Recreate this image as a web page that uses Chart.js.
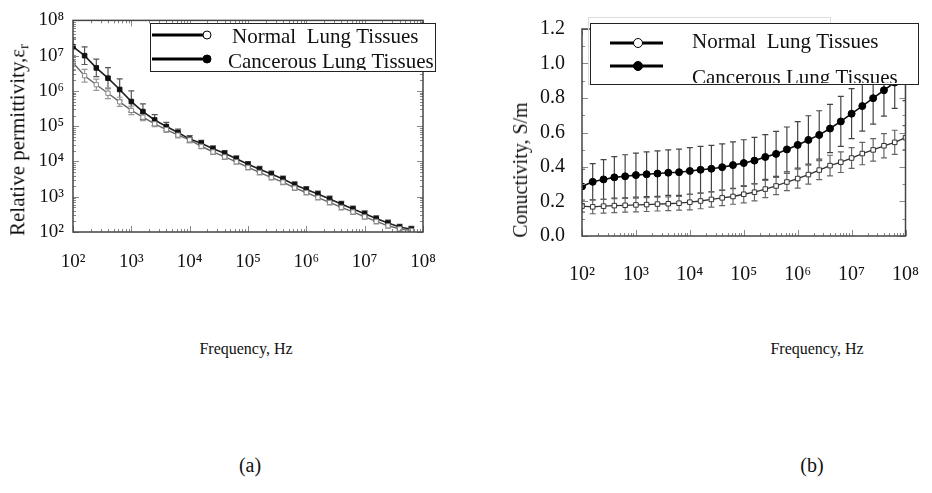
<!DOCTYPE html>
<html>
<head>
<meta charset="utf-8">
<script src="https://cdn.jsdelivr.net/npm/chart.js@4.4.0/dist/chart.umd.min.js"></script>
<style>
html, body { margin: 0; padding: 0; background: #fff; overflow: hidden; }
#wrap { position: relative; width: 932px; height: 493px; overflow: hidden; }
canvas { position: absolute; top: 0; }
.lbl { position: absolute; font-family: 'Liberation Serif', 'Times New Roman', serif; color: #111;
       white-space: nowrap; transform: translate(-50%, -50%); line-height: 1; }
.rot { transform: translate(-50%, -50%) rotate(-90deg); }
.lbl sub { font-size: 70%; vertical-align: -0.25em; }
</style>
</head>
<body>
<div id="wrap">
  <canvas id="chartA" width="466" height="300" style="left:0"></canvas>
  <canvas id="chartB" width="480" height="300" style="left:466px"></canvas>
  <div class="lbl rot" style="left:19px;top:140px;font-size:21px">Relative permittivity,ε<sub>r</sub></div>
  <div class="lbl rot" style="left:520px;top:170px;font-size:20px">Conuctivity, S/m</div>
  <div class="lbl" style="left:246px;top:349px;font-size:16px">Frequency, Hz</div>
  <div class="lbl" style="left:817px;top:349px;font-size:16px">Frequency, Hz</div>
  <div class="lbl" style="left:250px;top:465px;font-size:20px">(a)</div>
  <div class="lbl" style="left:812px;top:465px;font-size:20px">(b)</div>
</div>
<script>
// frequencies (Hz), 5 points per decade
var freqs = [1.00e2, 1.58e2, 2.51e2, 3.98e2, 6.31e2, 1.00e3, 1.58e3, 2.51e3, 3.98e3, 6.31e3,
             1.00e4, 1.58e4, 2.51e4, 3.98e4, 6.31e4, 1.00e5, 1.58e5, 2.51e5, 3.98e5, 6.31e5,
             1.00e6, 1.58e6, 2.51e6, 3.98e6, 6.31e6, 1.00e7, 1.58e7, 2.51e7, 3.98e7, 6.31e7, 1.00e8];

var seriesNames = ['Normal  Lung Tissues', 'Cancerous Lung Tissues'];

// (a) relative permittivity
var permNormal = [6.3e6, 2.7e6, 1.5e6, 8.6e5, 4.9e5, 2.8e5, 1.8e5, 1.17e5, 8.0e4, 5.6e4,
                  4.1e4, 2.7e4, 1.86e4, 1.35e4, 9.8e3, 6.8e3, 4.9e3, 3.5e3, 2.6e3, 1.78e3,
                  1.32e3, 950, 690, 500, 370, 270, 200, 150, 123, 110];
var permCancer = [1.8e7, 1.0e7, 4.5e6, 2.3e6, 1.1e6, 5.0e5, 2.6e5, 1.5e5, 9.8e4, 6.6e4,
                  4.3e4, 3.3e4, 2.3e4, 1.7e4, 1.2e4, 8.3e3, 6.0e3, 4.4e3, 3.2e3, 2.2e3,
                  1.6e3, 1.2e3, 860, 620, 450, 330, 240, 180, 138, 120];
// error bars, in decades
var permNormalErr = [0.2, 0.18, 0.16, 0.15, 0.13, 0.12, 0.1, 0.08, 0.08, 0.08,
                     0.07, 0.07, 0.07, 0.07, 0.07, 0.07, 0.07, 0.07, 0.07, 0.07,
                     0.07, 0.07, 0.07, 0.07, 0.07, 0.07, 0.07, 0.07, 0.07, 0.07];
var permCancerErr = [0.25, 0.25, 0.25, 0.3, 0.3, 0.3, 0.22, 0.15, 0.12, 0.1,
                     0.1, 0.08, 0.08, 0.08, 0.08, 0.08, 0.08, 0.08, 0.08, 0.08,
                     0.08, 0.08, 0.08, 0.08, 0.08, 0.08, 0.08, 0.08, 0.08, 0.08];

// (b) conductivity, S/m
var condNormal = [0.173, 0.169, 0.173, 0.176, 0.178, 0.180, 0.182, 0.185, 0.187, 0.190,
                  0.196, 0.203, 0.212, 0.221, 0.229, 0.242, 0.254, 0.272, 0.290, 0.313,
                  0.333, 0.356, 0.382, 0.408, 0.428, 0.452, 0.478, 0.499, 0.523, 0.543, 0.570];
var condCancer = [0.287, 0.314, 0.328, 0.340, 0.346, 0.353, 0.358, 0.362, 0.367, 0.370,
                  0.377, 0.384, 0.390, 0.399, 0.411, 0.423, 0.437, 0.458, 0.476, 0.502,
                  0.528, 0.557, 0.586, 0.623, 0.664, 0.709, 0.753, 0.799, 0.845, 0.890, 0.935];
var condNormalErr = [0.035, 0.04, 0.04, 0.04, 0.04, 0.04, 0.04, 0.04, 0.04, 0.04,
                     0.045, 0.045, 0.045, 0.045, 0.045, 0.05, 0.05, 0.05, 0.05, 0.05,
                     0.055, 0.055, 0.055, 0.06, 0.06, 0.06, 0.065, 0.065, 0.07, 0.07, 0.07];
var condCancerErr = [0.10, 0.105, 0.115, 0.12, 0.125, 0.128, 0.13, 0.132, 0.132, 0.134,
                     0.135, 0.135, 0.135, 0.135, 0.135, 0.135, 0.135, 0.13, 0.13, 0.13,
                     0.135, 0.14, 0.14, 0.14, 0.145, 0.145, 0.145, 0.15, 0.15, 0.15, 0.15];

// tick labels
var decades = [1e2, 1e3, 1e4, 1e5, 1e6, 1e7, 1e8];
var decadeLabels = ['10²', '10³', '10⁴', '10⁵', '10⁶', '10⁷', '10⁸'];
var condTicks = [0, 0.2, 0.4, 0.6, 0.8, 1.0, 1.2];
var condTickLabels = ['0.0', '0.2', '0.4', '0.6', '0.8', '1.0', '1.2'];

var serif = 'Liberation Serif, serif';
Chart.defaults.font.family = serif;
Chart.defaults.color = '#111';

function pts(ys) {
  return ys.map(function (v, i) { return { x: freqs[i], y: v }; });
}

// vertical error bars with caps, drawn under the lines
var errorBars = {
  id: 'errorBars',
  beforeDatasetsDraw: function (chart) {
    var ctx = chart.ctx, a = chart.chartArea, ys = chart.scales.y;
    ctx.save();
    ctx.beginPath();
    ctx.rect(a.left, a.top, a.right - a.left, a.bottom - a.top);
    ctx.clip();
    for (var di = chart.data.datasets.length - 1; di >= 0; di--) {
      var ds = chart.data.datasets[di];
      var meta = chart.getDatasetMeta(di);
      ctx.strokeStyle = ds.errColor;
      ctx.lineWidth = 1.2;
      meta.data.forEach(function (p, i) {
        var v = ds.data[i].y, e = ds.err[i];
        var lo = ds.logErr ? v / Math.pow(10, e) : v - e;
        var hi = ds.logErr ? v * Math.pow(10, e) : v + e;
        var y1 = ys.getPixelForValue(lo), y2 = ys.getPixelForValue(hi);
        ctx.beginPath();
        ctx.moveTo(p.x, y1); ctx.lineTo(p.x, y2);
        ctx.moveTo(p.x - 3, y1); ctx.lineTo(p.x + 3, y1);
        ctx.moveTo(p.x - 3, y2); ctx.lineTo(p.x + 3, y2);
        ctx.stroke();
      });
    }
    ctx.restore();
  }
};

// box frame with small inward ticks on all four sides
function logMinor(min, max) {
  var out = [];
  for (var e = Math.floor(Math.log10(min)); e <= Math.log10(max); e++) {
    for (var m = 1; m <= 9; m++) {
      var v = m * Math.pow(10, e);
      if (v >= min && v <= max) out.push({ v: v, major: m === 1 });
    }
  }
  return out;
}
var frame = {
  id: 'frame',
  afterDatasetsDraw: function (chart) {
    var ctx = chart.ctx, a = chart.chartArea, xs = chart.scales.x, ys = chart.scales.y;
    ctx.save();
    ctx.strokeStyle = '#888';
    ctx.lineWidth = 1;
    logMinor(xs.min, xs.max).forEach(function (t) {
      var x = Math.round(xs.getPixelForValue(t.v)) + 0.5, L = t.major ? 6 : 3;
      ctx.beginPath();
      ctx.moveTo(x, a.bottom); ctx.lineTo(x, a.bottom - L);
      ctx.moveTo(x, a.top); ctx.lineTo(x, a.top + L);
      ctx.stroke();
    });
    var yt = ys.type === 'logarithmic' ? logMinor(ys.min, ys.max)
      : [0, 0.1, 0.2, 0.3, 0.4, 0.5, 0.6, 0.7, 0.8, 0.9, 1.0, 1.1, 1.2].map(function (v, i) { return { v: v, major: i % 2 === 0 }; });
    yt.forEach(function (t) {
      var y = Math.round(ys.getPixelForValue(t.v)) + 0.5, L = t.major ? 6 : 3;
      ctx.beginPath();
      ctx.moveTo(a.left, y); ctx.lineTo(a.left + L, y);
      ctx.moveTo(a.right, y); ctx.lineTo(a.right - L, y);
      ctx.stroke();
    });
    ctx.strokeStyle = '#444';
    ctx.lineWidth = 1.5;
    ctx.strokeRect(a.left, a.top, a.right - a.left, a.bottom - a.top);
    ctx.restore();
  }
};

// legend box with white fill that sits over the plot
var boxLegend = {
  id: 'boxLegend',
  afterDraw: function (chart, args, o) {
    var ctx = chart.ctx;
    ctx.save();
    if (o.ghost) {
      ctx.strokeStyle = '#ddd'; ctx.lineWidth = 1;
      ctx.strokeRect(o.ghost[0] + 0.5, o.ghost[1] + 0.5, o.ghost[2] - o.ghost[0], o.ghost[3] - o.ghost[1]);
    }
    var b = o.box;
    ctx.fillStyle = '#fff';
    ctx.fillRect(b[0], b[1], b[2] - b[0], b[3] - b[1]);
    ctx.strokeStyle = '#222'; ctx.lineWidth = 1;
    ctx.strokeRect(b[0] + 0.5, b[1] + 0.5, b[2] - b[0], b[3] - b[1]);
    o.items.forEach(function (it, i) {
      ctx.strokeStyle = '#000'; ctx.lineWidth = 3;
      ctx.beginPath(); ctx.moveTo(o.lineX[0], it.y); ctx.lineTo(o.lineX[1], it.y); ctx.stroke();
      ctx.beginPath(); ctx.arc(o.markerX, it.y, o.markerR, 0, Math.PI * 2);
      ctx.fillStyle = it.filled ? '#000' : '#fff'; ctx.fill();
      ctx.lineWidth = 1; ctx.stroke();
    });
    ctx.beginPath();
    ctx.rect(b[0], b[1], b[2] - b[0] + 4, b[3] - b[1] - 1);
    ctx.clip();
    ctx.fillStyle = '#111';
    ctx.font = o.fontSize + 'px ' + serif;
    ctx.textBaseline = 'alphabetic';
    o.items.forEach(function (it, i) {
      ctx.fillText(chart.data.datasets[i].label, it.textX, it.base);
    });
    ctx.restore();
  }
};

function logAxis(size, pad, fit) {
  return {
    type: 'logarithmic', min: 1e2, max: 1e8,
    afterBuildTicks: function (s) { s.ticks = decades.map(function (v) { return { value: v }; }); },
    afterFit: fit,
    grid: { display: false, drawTicks: false },
    border: { display: false },
    ticks: { autoSkip: false, maxRotation: 0, padding: pad, color: '#111',
             font: { family: serif, size: size },
             callback: function (v, i) { return decadeLabels[i]; } }
  };
}

new Chart(document.getElementById('chartA'), {
  type: 'line',
  data: {
    datasets: [{
      label: seriesNames[0], data: pts(permNormal), err: permNormalErr, logErr: true, errColor: '#999',
      borderColor: '#666', borderWidth: 1.4, pointStyle: 'rect', pointRadius: 3,
      pointBackgroundColor: '#fff', pointBorderColor: '#888', pointBorderWidth: 1
    }, {
      label: seriesNames[1], data: pts(permCancer), err: permCancerErr, logErr: true, errColor: '#555',
      borderColor: '#222', borderWidth: 1.6, pointStyle: 'rect', pointRadius: 3.2,
      pointBackgroundColor: '#111', pointBorderColor: '#111', pointBorderWidth: 1
    }]
  },
  options: {
    responsive: false, animation: false,
    layout: { padding: { top: 13, right: 43, left: 0, bottom: 0 } },
    scales: {
      x: logAxis(19, 19, function (s) { s.height = 68; }),
      y: logAxis(19, 9, function (s) { s.width = 73; })
    },
    plugins: {
      legend: { display: false }, tooltip: { enabled: false },
      boxLegend: {
        box: [150, 23, 435, 71], lineX: [152, 207], markerX: 207, markerR: 4, fontSize: 21,
        items: [{ y: 35, filled: false, textX: 232, base: 43 },
                { y: 59, filled: true, textX: 228, base: 68 }]
      }
    }
  },
  plugins: [errorBars, frame, boxLegend]
});

new Chart(document.getElementById('chartB'), {
  type: 'line',
  data: {
    datasets: [{
      label: seriesNames[0], data: pts(condNormal), err: condNormalErr, logErr: false, errColor: '#666',
      borderColor: '#333', borderWidth: 1.3, pointStyle: 'rect', pointRadius: 3.2,
      pointBackgroundColor: '#fff', pointBorderColor: '#333', pointBorderWidth: 1
    }, {
      label: seriesNames[1], data: pts(condCancer), err: condCancerErr, logErr: false, errColor: '#444',
      borderColor: '#111', borderWidth: 1.6, pointStyle: 'circle', pointRadius: 3.5,
      pointBackgroundColor: '#000', pointBorderColor: '#000', pointBorderWidth: 1
    }]
  },
  options: {
    responsive: false, animation: false,
    layout: { padding: { top: 9, right: 28, left: 0, bottom: 0 } },
    scales: {
      x: logAxis(20, 27, function (s) { s.height = 64; }),
      y: {
        type: 'linear', min: 0, max: 1.2,
        afterBuildTicks: function (s) { s.ticks = condTicks.map(function (v) { return { value: v }; }); },
        afterFit: function (s) { s.width = 116; },
        grid: { display: false, drawTicks: false },
        border: { display: false },
        ticks: { autoSkip: false, padding: 17, color: '#111', font: { family: serif, size: 20 },
                 callback: function (v, i) { return condTickLabels[i]; } }
      }
    },
    plugins: {
      legend: { display: false }, tooltip: { enabled: false },
      boxLegend: {
        ghost: [122, 17, 364, 84],
        box: [124, 23, 452, 84], lineX: [144, 197], markerX: 172, markerR: 4.5, fontSize: 21,
        items: [{ y: 43, filled: false, textX: 226, base: 48 },
                { y: 66, filled: true, textX: 226, base: 84 }]
      }
    }
  },
  plugins: [errorBars, frame, boxLegend]
});
</script>
</body>
</html>
